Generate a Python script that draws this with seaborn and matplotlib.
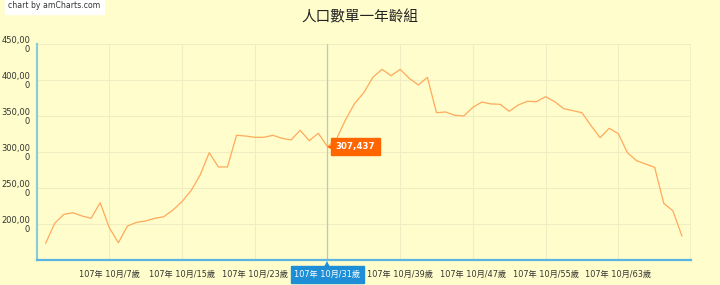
import numpy as np
import pandas as pd
import matplotlib
matplotlib.use("Agg")
import matplotlib.pyplot as plt
import matplotlib.transforms as mtransforms
import seaborn as sns

# ---- data ----
title = "人口數單一年齡組"
ages = list(range(0, 71))
categories = [f"107年 10月/{a}歲" for a in ages]
population = [
    173200, 201000, 213400, 215700, 211100, 207900, 229600, 194900, 174000, 197200,
    202300, 204200, 207900, 210100, 219400, 231000, 246300, 268100, 299100, 279200,
    279200, 323200, 322200, 320400, 320400, 323200, 319000, 316700, 330100, 315800,
    326000, 307437, 318000, 345000, 367500, 382400, 403700, 414800, 406000, 414800,
    402300, 393100, 403700, 354600, 355600, 351000, 350000, 362100, 369400, 366700,
    366300, 356500, 365300, 370400, 369900, 376800, 369900, 360200, 357400, 354600,
    336600, 319900, 332900, 325400, 299100, 288000, 283300, 278800, 228700, 218500,
    183300,
]
yticks = [200000, 250000, 300000, 350000, 400000, 450000]
xtick_ages = [7, 15, 23, 31, 39, 47, 55, 63]
cursor_age = 31

df = pd.DataFrame({"age": ages, "category": categories, "population": population})

# ---- style ----
BG = "#FFFDCB"
sns.set_theme(style="white")
plt.rcParams["font.family"] = ["DejaVu Sans", "Noto Sans CJK TC"]

W, H = 720, 285
fig = plt.figure(figsize=(W / 100, H / 100), dpi=100, facecolor=BG)
ax = fig.add_axes([37 / W, 1 - 260 / H, (691 - 37) / W, (260 - 44) / H])
ax.set_facecolor(BG)

sns.lineplot(data=df, x="age", y="population", ax=ax, color="#FFA95C", linewidth=0.9)

ax.set_xlim(-0.95, 71.0)
ax.set_ylim(150000, 450000)

# grid
for y in yticks:
    ax.axhline(y, color="#F1EDC2", lw=0.8, zorder=0)
for a in xtick_ages:
    ax.axvline(a, color="#F1EDC2", lw=0.8, zorder=0)
ax.axvline(71.0, color="#F1EDC2", lw=1.2, zorder=0)

# cursor line
ax.axvline(cursor_age, color="#B3CBC6", lw=0.9, zorder=1)

# spines
for s in ["top", "right"]:
    ax.spines[s].set_visible(False)
ax.spines["left"].set_color("#8CCBDA")
ax.spines["left"].set_linewidth(1.6)
ax.spines["bottom"].set_color("#5BB5E3")
ax.spines["bottom"].set_linewidth(1.6)

# ticks
ax.set_yticks(yticks)
ax.set_yticklabels([f"{v:,}"[:-1] + "\n" + f"{v:,}"[-1] for v in yticks],
                   fontsize=6, color="#333333", ha="right", linespacing=0.95)
ax.tick_params(axis="y", length=3, width=1, color="#8CCBDA", pad=2)
ax.set_xticks(xtick_ages)
ax.set_xticklabels([categories[a] for a in xtick_ages], fontsize=5.9, color="#333333")
ax.tick_params(axis="x", length=5, width=1, color="#5BB5E3", pad=2.5)
ax.set_xlabel("")
ax.set_ylabel("")

# value balloon
val = population[cursor_age]
ax.annotate(f"{val:,}", xy=(cursor_age, val), xytext=(6, 0), textcoords="offset points",
            ha="left", va="center", fontsize=6.2, fontweight="bold", color="white",
            bbox=dict(boxstyle="square,pad=0.5", fc="#FF6600", ec="#FF6600"),
            zorder=10, annotation_clip=False)
ax.plot([cursor_age], [val], marker="<", markersize=7, color="#FF6600",
        markeredgewidth=0, zorder=9, clip_on=False,
        transform=ax.transData + mtransforms.ScaledTranslation(3.2 / 72, 0, fig.dpi_scale_trans))

# category balloon
trans = mtransforms.blended_transform_factory(ax.transData, ax.transAxes)
ax.text(cursor_age, 0, categories[cursor_age],
        transform=trans + mtransforms.ScaledTranslation(0, -10.5 / 72, fig.dpi_scale_trans),
        ha="center", va="center", fontsize=5.9, color="white", zorder=20, clip_on=False,
        bbox=dict(boxstyle="square,pad=0.45", fc="#1E8ED6", ec="#1E8ED6"))
ax.plot([cursor_age], [0], marker="^", markersize=6, color="#1E8ED6", markeredgewidth=0,
        transform=trans + mtransforms.ScaledTranslation(0, -3.5 / 72, fig.dpi_scale_trans),
        clip_on=False, zorder=19)

# title
fig.text(0.5, 1 - 17 / H, title, ha="center", va="center", fontsize=10.5,
         color="#222222", family=["Noto Sans CJK TC", "DejaVu Sans"])

# credit
fig.text(8 / W, 1 - 6 / H, "chart by amCharts.com", ha="left", va="center", fontsize=5.6,
         color="#333333",
         bbox=dict(boxstyle="square,pad=0.45", fc="white", ec="white"))

fig.savefig("out.png", dpi=100, facecolor=BG)
